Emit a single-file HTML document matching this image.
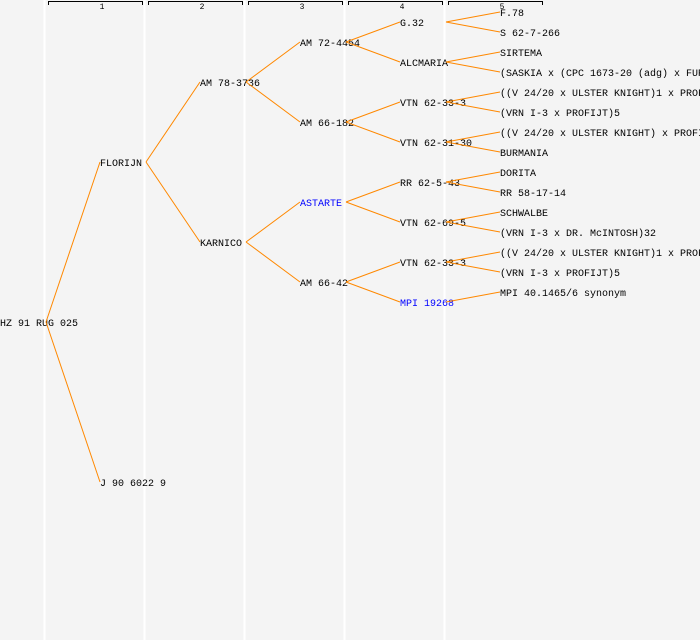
<!DOCTYPE html>
<html><head><meta charset="utf-8"><style>
html,body{margin:0;padding:0;background:#f4f4f4;}
svg{display:block;}
text{font-family:"Liberation Mono","DejaVu Sans Mono",monospace;font-size:10px;fill:#000;}
.b{fill:#0000ff;}
.h{font-size:8px;}
</style></head><body>
<svg width="700" height="640" xmlns="http://www.w3.org/2000/svg">
<rect width="700" height="640" fill="#f4f4f4"/>
<g stroke="#ffffff" stroke-width="2">
<line x1="44.5" y1="0" x2="44.5" y2="640"/>
<line x1="144.5" y1="0" x2="144.5" y2="640"/>
<line x1="244.5" y1="0" x2="244.5" y2="640"/>
<line x1="344.5" y1="0" x2="344.5" y2="640"/>
<line x1="444.5" y1="0" x2="444.5" y2="640"/>
</g>
<g stroke="#000" stroke-width="1" fill="none">
<path d="M48.5 5V1.5H142.5V5"/>
<path d="M148.5 5V1.5H242.5V5"/>
<path d="M248.5 5V1.5H342.5V5"/>
<path d="M348.5 5V1.5H442.5V5"/>
<path d="M448.5 5V1.5H542.5V5"/>
</g>
<g class="h" text-anchor="middle">
<text class="h" x="102" y="9">1</text>
<text class="h" x="202" y="9">2</text>
<text class="h" x="302" y="9">3</text>
<text class="h" x="402" y="9">4</text>
<text class="h" x="502" y="9">5</text>
</g>
<g>
<text x="0" y="326">HZ 91 RUG 025</text>
<text x="100" y="166">FLORIJN</text>
<text x="100" y="486">J 90 6022 9</text>
<text x="200" y="86">AM 78-3736</text>
<text x="200" y="246">KARNICO</text>
<text x="300" y="46">AM 72-4454</text>
<text x="300" y="126">AM 66-182</text>
<text class="b" x="300" y="206">ASTARTE</text>
<text x="300" y="286">AM 66-42</text>
<text x="400" y="26">G.32</text>
<text x="400" y="66">ALCMARIA</text>
<text x="400" y="106">VTN 62-33-3</text>
<text x="400" y="146">VTN 62-31-30</text>
<text x="400" y="186">RR 62-5-43</text>
<text x="400" y="226">VTN 62-69-5</text>
<text x="400" y="266">VTN 62-33-3</text>
<text class="b" x="400" y="306">MPI 19268</text>
<text x="500" y="16">F.78</text>
<text x="500" y="36">S 62-7-266</text>
<text x="500" y="56">SIRTEMA</text>
<text x="500" y="76">(SASKIA x (CPC 1673-20 (adg) x FURORE)</text>
<text x="500" y="96">((V 24/20 x ULSTER KNIGHT)1 x PROFIJT)</text>
<text x="500" y="116">(VRN I-3 x PROFIJT)5</text>
<text x="500" y="136">((V 24/20 x ULSTER KNIGHT) x PROFIJT)</text>
<text x="500" y="156">BURMANIA</text>
<text x="500" y="176">DORITA</text>
<text x="500" y="196">RR 58-17-14</text>
<text x="500" y="216">SCHWALBE</text>
<text x="500" y="236">(VRN I-3 x DR. McINTOSH)32</text>
<text x="500" y="256">((V 24/20 x ULSTER KNIGHT)1 x PROFIJT)</text>
<text x="500" y="276">(VRN I-3 x PROFIJT)5</text>
<text x="500" y="296">MPI 40.1465/6 synonym</text>
</g>
<g stroke="#ff8800" stroke-width="1" fill="none">
<path d="M46 322L100 162M46 322L100 482"/>
<path d="M146 162L200 82M146 162L200 242"/>
<path d="M246 82L300 42M246 82L300 122M246 242L300 202M246 242L300 282"/>
<path d="M346 42L400 22M346 42L400 62M346 122L400 102M346 122L400 142M346 202L400 182M346 202L400 222M346 282L400 262M346 282L400 302"/>
<path d="M446 22L500 12M446 22L500 32M446 62L500 52M446 62L500 72M446 102L500 92M446 102L500 112M446 142L500 132M446 142L500 152M446 182L500 172M446 182L500 192M446 222L500 212M446 222L500 232M446 262L500 252M446 262L500 272M446 302L500 292"/>
</g>
</svg>
</body></html>
